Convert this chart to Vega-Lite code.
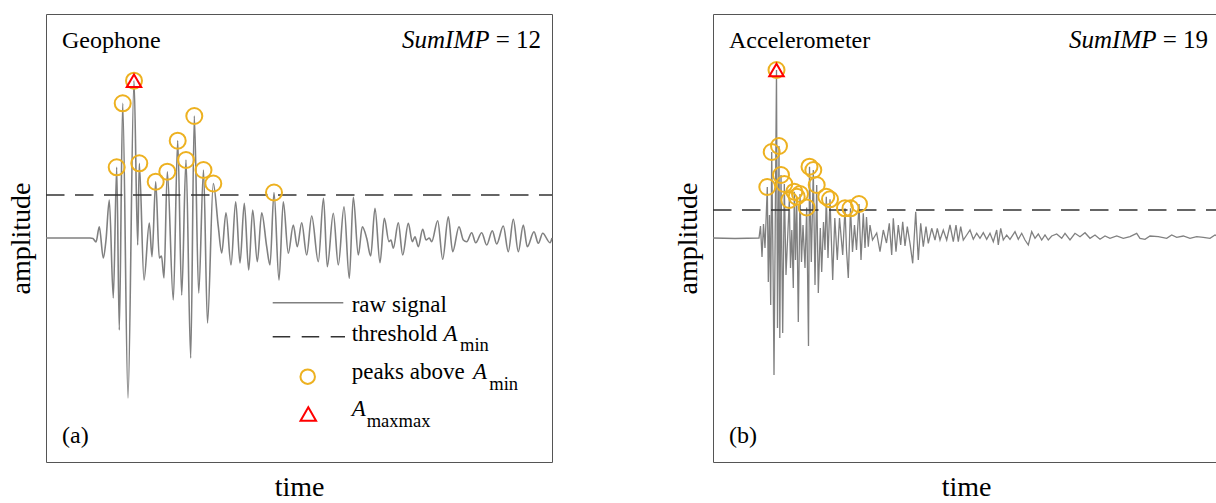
{
  "$schema": "https://vega.github.io/schema/vega-lite/v6.json",
  "background": "white",
  "padding": {"left": 6, "top": 13, "right": 0, "bottom": 0},
  "spacing": 117,
  "config": {
    "view": {"stroke": "#555555", "strokeWidth": 1},
    "font": "Liberation Serif",
    "axis": {"labels": false, "ticks": false, "domain": false, "grid": false, "titleFont": "Liberation Serif", "titleFontSize": 28, "titleFontWeight": "normal", "titleColor": "black", "titlePadding": 11}
  },
  "datasets": {
    "geo": [
      {"t":0,"a":0},{"t":14,"a":0},{"t":29,"a":0},{"t":44,"a":0},{"t":47,"a":-0.5},{"t":50,"a":-4},{"t":53.3,"a":11.3},{"t":57.3,"a":-20},{"t":60,"a":-2},{"t":63.3,"a":38},{"t":67.3,"a":-60},{"t":70.7,"a":70.7},{"t":73.3,"a":-92},{"t":76.7,"a":134.7},{"t":82,"a":-160},{"t":88,"a":157.3},{"t":91.7,"a":-7},{"t":93.3,"a":74.7},{"t":98,"a":-42},{"t":103.3,"a":15},{"t":106,"a":-18.7},{"t":109.7,"a":56.3},{"t":113.3,"a":-20},{"t":115.5,"a":-18},{"t":118,"a":-40},{"t":121.3,"a":66.3},{"t":127.3,"a":-62},{"t":131.7,"a":97.3},{"t":135.7,"a":-57},{"t":140,"a":78},{"t":144.7,"a":-120},{"t":148.3,"a":122},{"t":152.7,"a":-55},{"t":157.5,"a":68},{"t":161.5,"a":-85},{"t":167.3,"a":54.5},{"t":172.3,"a":11.3},{"t":175.7,"a":-15},{"t":180,"a":25.3},{"t":185,"a":-27},{"t":189.7,"a":36.3},{"t":194,"a":-25},{"t":198.3,"a":34.7},{"t":202.7,"a":-32},{"t":206.7,"a":28},{"t":211.3,"a":-23.7},{"t":215.7,"a":25.3},{"t":220.7,"a":-8.7},{"t":224,"a":-27},{"t":228,"a":45.5},{"t":233,"a":-42},{"t":237.3,"a":36.3},{"t":242.3,"a":-15.3},{"t":247.3,"a":13},{"t":251.3,"a":-8.7},{"t":255.7,"a":15.3},{"t":260.7,"a":-17},{"t":265.7,"a":22},{"t":272.3,"a":-23.7},{"t":277.5,"a":39.7},{"t":281.3,"a":-28.7},{"t":287.3,"a":24.7},{"t":292.3,"a":-27},{"t":298,"a":31.3},{"t":303.3,"a":-40.3},{"t":307.3,"a":40.7},{"t":312.3,"a":-17},{"t":316.3,"a":11.3},{"t":320.7,"a":-0.3},{"t":324.7,"a":-18},{"t":329,"a":29.7},{"t":334,"a":-24.7},{"t":338.3,"a":19.7},{"t":343,"a":-3.7},{"t":345,"a":-2},{"t":347.3,"a":-10.3},{"t":352.3,"a":15.3},{"t":356.7,"a":-17},{"t":362.3,"a":14.7},{"t":366.3,"a":-3.7},{"t":369,"a":1.3},{"t":372.3,"a":-8.7},{"t":376.7,"a":8.7},{"t":380,"a":-2},{"t":383.3,"a":0},{"t":385.7,"a":-3.7},{"t":391.7,"a":17.3},{"t":396.7,"a":-21.3},{"t":402.3,"a":21.3},{"t":406.7,"a":-13.7},{"t":413,"a":11.3},{"t":417.3,"a":-2},{"t":420.7,"a":-3.7},{"t":425.7,"a":5.3},{"t":429.7,"a":-4.7},{"t":435.7,"a":5.3},{"t":440.7,"a":-7},{"t":446.3,"a":7.3},{"t":450.7,"a":-6},{"t":457.3,"a":12},{"t":462.3,"a":-13.7},{"t":467.3,"a":18.7},{"t":472.3,"a":-13.7},{"t":477.3,"a":13},{"t":481.3,"a":-8.7},{"t":488,"a":6.3},{"t":492.3,"a":-5.3},{"t":496.7,"a":4.7},{"t":504,"a":-4.7},{"t":506,"a":0}
    ],
    "geoPeaks": [
      {"t":70.7,"a":70.7},{"t":76.7,"a":134.7},{"t":88,"a":157.3},{"t":93.3,"a":74.7},{"t":109.7,"a":56.3},{"t":121.3,"a":66.3},{"t":131.7,"a":97.3},{"t":140,"a":78},{"t":148.3,"a":122},{"t":157.5,"a":68},{"t":167.3,"a":54.5},{"t":228,"a":45.5}
    ],
    "acc": [
      {"t":0,"a":0},{"t":22,"a":-0.5},{"t":46,"a":0},{"t":47.5,"a":12},{"t":49,"a":-19},{"t":50.5,"a":14},{"t":52,"a":-10},{"t":54.3,"a":51},{"t":55.3,"a":-44},{"t":56.5,"a":23},{"t":57.7,"a":-67},{"t":58.7,"a":86},{"t":60,"a":-22},{"t":61,"a":-137},{"t":62.2,"a":8},{"t":63.5,"a":168},{"t":64.5,"a":-90},{"t":66,"a":92},{"t":66.8,"a":-100},{"t":68,"a":63},{"t":69.7,"a":-95},{"t":71.3,"a":54},{"t":73,"a":-37},{"t":76.3,"a":38},{"t":77.5,"a":-30},{"t":78.8,"a":8},{"t":80.3,"a":-50},{"t":81.3,"a":46.3},{"t":82.5,"a":-22},{"t":83.7,"a":41.3},{"t":85.3,"a":-84},{"t":87,"a":44},{"t":88.5,"a":-24},{"t":90,"a":13},{"t":92,"a":-30},{"t":93.7,"a":30.5},{"t":95.5,"a":-108},{"t":96.5,"a":71.3},{"t":98.3,"a":-24},{"t":100.3,"a":68},{"t":102,"a":-47},{"t":103.7,"a":53},{"t":105.3,"a":-55},{"t":107.3,"a":10},{"t":108.7,"a":-34},{"t":110.5,"a":16},{"t":112,"a":-12},{"t":113.3,"a":41.3},{"t":115,"a":-20},{"t":117,"a":38.7},{"t":119.7,"a":-42},{"t":121.8,"a":20},{"t":124.3,"a":-22},{"t":126.5,"a":20},{"t":129.7,"a":-17},{"t":132,"a":29.7},{"t":133.5,"a":-12},{"t":135.3,"a":-40},{"t":137.5,"a":29.7},{"t":139.5,"a":-14},{"t":141.5,"a":13},{"t":143.5,"a":-12},{"t":146,"a":34},{"t":148,"a":-22},{"t":150.3,"a":24.7},{"t":152,"a":-10},{"t":153.5,"a":21},{"t":155.3,"a":-8.7},{"t":157,"a":13},{"t":159.5,"a":-2},{"t":163.7,"a":5},{"t":167,"a":-13.7},{"t":170.3,"a":8},{"t":173.5,"a":-5},{"t":176.3,"a":14.7},{"t":178.7,"a":-17},{"t":180.3,"a":19.7},{"t":183,"a":-13.7},{"t":185.3,"a":13},{"t":187.7,"a":-7},{"t":189.7,"a":16.3},{"t":192,"a":-8},{"t":194.3,"a":11.3},{"t":197,"a":-5.3},{"t":199.7,"a":-25.3},{"t":202.7,"a":26.3},{"t":205.3,"a":-22},{"t":207.7,"a":14.7},{"t":210.3,"a":-8.7},{"t":213,"a":11.3},{"t":215.3,"a":-5.3},{"t":218.7,"a":9.7},{"t":222,"a":-2},{"t":224.3,"a":9.7},{"t":227,"a":-2},{"t":230.3,"a":8},{"t":233.7,"a":-2},{"t":237,"a":13},{"t":240.3,"a":-3.7},{"t":243,"a":13},{"t":245.3,"a":-3.7},{"t":247.7,"a":11.3},{"t":250.3,"a":-2},{"t":253.7,"a":3},{"t":257,"a":8},{"t":260.3,"a":-1.3},{"t":263.7,"a":4.7},{"t":267,"a":-0.3},{"t":270.3,"a":5.3},{"t":273.7,"a":-1.3},{"t":277,"a":4.7},{"t":280.3,"a":-3.7},{"t":283.7,"a":8},{"t":285.3,"a":-7},{"t":287.7,"a":9.7},{"t":290.3,"a":-2},{"t":293.7,"a":3},{"t":297,"a":-1.3},{"t":302,"a":6.3},{"t":305.3,"a":-1.3},{"t":308.7,"a":4.7},{"t":312,"a":-2},{"t":315.3,"a":-7},{"t":318.7,"a":6.3},{"t":322,"a":-0.3},{"t":325.3,"a":4},{"t":328.7,"a":-2},{"t":332,"a":3},{"t":335.3,"a":-2},{"t":338.7,"a":2},{"t":343.7,"a":4},{"t":348.7,"a":-0.3},{"t":352,"a":4.7},{"t":357,"a":-2},{"t":362,"a":4.7},{"t":367,"a":1.3},{"t":372,"a":5.3},{"t":377,"a":-0.3},{"t":382,"a":3},{"t":387,"a":-1.3},{"t":392,"a":2},{"t":397,"a":-0.3},{"t":403.7,"a":2},{"t":410.3,"a":-0.3},{"t":417,"a":1.3},{"t":423.7,"a":4.7},{"t":427,"a":-0.3},{"t":432,"a":-1.3},{"t":437,"a":2},{"t":445.3,"a":1.3},{"t":453.7,"a":-0.3},{"t":458.7,"a":3},{"t":463.7,"a":0.7},{"t":470.3,"a":2},{"t":477,"a":-0.3},{"t":483.7,"a":1.3},{"t":490.3,"a":0.7},{"t":497,"a":-0.3},{"t":502,"a":3},{"t":506,"a":1}
    ],
    "accPeaks": [
      {"t":54.3,"a":51},{"t":58.7,"a":86},{"t":63.5,"a":168},{"t":66,"a":92},{"t":68,"a":63},{"t":71.3,"a":54},{"t":76.3,"a":38},{"t":81.3,"a":46.3},{"t":83.7,"a":41.3},{"t":87,"a":44},{"t":93.7,"a":30.5},{"t":96.5,"a":71.3},{"t":100.3,"a":68},{"t":103.7,"a":53},{"t":113.3,"a":41.3},{"t":117,"a":38.7},{"t":132,"a":29.7},{"t":137.5,"a":29.7},{"t":146,"a":34}
    ]
  },
  "hconcat": [
    {
      "width": 506,
      "height": 448,
      "encoding": {
        "x": {"field": "t", "type": "quantitative", "scale": {"domain": [0, 506], "nice": false, "zero": false}, "axis": {"title": "time"}},
        "y": {"field": "a", "type": "quantitative", "scale": {"domain": [-224, 224], "nice": false, "zero": false}, "axis": {"title": "amplitude"}}
      },
      "layer": [
        {"data": {"name": "geo"}, "mark": {"type": "line", "color": "#808080", "strokeWidth": 1.6, "interpolate": "monotone"}},
        {"data": {"values": [{"t": 0, "a": 43}, {"t": 506, "a": 43}]}, "mark": {"type": "line", "color": "#333333", "strokeWidth": 1.5, "strokeDash": [18.5, 10.5]}},
        {"data": {"name": "geoPeaks"}, "mark": {"type": "point", "shape": "circle", "filled": false, "stroke": "#EDB120", "strokeWidth": 2, "size": 256, "opacity": 1}},
        {"data": {"values": [{"t": 88, "a": 157.3}]}, "mark": {"type": "point", "shape": "triangle-up", "filled": false, "stroke": "#FF0000", "strokeWidth": 2, "size": 210, "opacity": 1}},
        {"data": {"values": [{"t": 16, "a": 190, "label": "Geophone"}, {"t": 16, "a": -205, "label": "(a)"}]}, "mark": {"type": "text", "align": "left", "baseline": "alphabetic", "fontSize": 24, "color": "black", "font": "Liberation Serif"}, "encoding": {"text": {"field": "label"}}},
        {"data": {"values": [{"t": 495, "a": 190, "label": "= 12"}]}, "mark": {"type": "text", "align": "right", "baseline": "alphabetic", "fontSize": 25, "color": "black", "font": "Liberation Serif"}, "encoding": {"text": {"field": "label"}}},
        {"data": {"values": [{"t": 443.5, "a": 190, "label": "SumIMP"}]}, "mark": {"type": "text", "align": "right", "baseline": "alphabetic", "fontSize": 25, "fontStyle": "italic", "color": "black", "font": "Liberation Serif"}, "encoding": {"text": {"field": "label"}}},
        {"data": {"values": [{"t": 226.7, "a": -64.7}, {"t": 297.3, "a": -64.7}]}, "mark": {"type": "line", "color": "#808080", "strokeWidth": 1.6}},
        {"data": {"values": [{"t": 226.7, "a": -98.7}, {"t": 299, "a": -98.7}]}, "mark": {"type": "line", "color": "#333333", "strokeWidth": 1.5, "strokeDash": [17.5, 11.5]}},
        {"data": {"values": [{"t": 261.7, "a": -138.7}]}, "mark": {"type": "point", "shape": "circle", "filled": false, "stroke": "#EDB120", "strokeWidth": 2, "size": 210, "opacity": 1}},
        {"data": {"values": [{"t": 262.3, "a": -176}]}, "mark": {"type": "point", "shape": "triangle-up", "filled": false, "stroke": "#FF0000", "strokeWidth": 2, "size": 240, "opacity": 1}},
        {"data": {"values": [{"t": 305.7, "a": -74, "label": "raw signal"}, {"t": 305.7, "a": -102.7, "label": "threshold"}, {"t": 305.7, "a": -140.7, "label": "peaks above"}]}, "mark": {"type": "text", "align": "left", "baseline": "alphabetic", "fontSize": 23, "color": "black", "font": "Liberation Serif"}, "encoding": {"text": {"field": "label"}}},
        {"data": {"values": [{"t": 397.5, "a": -102.7, "label": "A"}, {"t": 427, "a": -140.7, "label": "A"}, {"t": 305.7, "a": -178.3, "label": "A"}]}, "mark": {"type": "text", "align": "left", "baseline": "alphabetic", "fontSize": 23, "fontStyle": "italic", "color": "black", "font": "Liberation Serif"}, "encoding": {"text": {"field": "label"}}},
        {"data": {"values": [{"t": 414, "a": -113.3, "label": "min"}, {"t": 443.3, "a": -151.7, "label": "min"}, {"t": 320.7, "a": -189.3, "label": "maxmax"}]}, "mark": {"type": "text", "align": "left", "baseline": "alphabetic", "fontSize": 18.5, "color": "black", "font": "Liberation Serif"}, "encoding": {"text": {"field": "label"}}}
      ]
    },
    {
      "width": 506,
      "height": 448,
      "encoding": {
        "x": {"field": "t", "type": "quantitative", "scale": {"domain": [0, 506], "nice": false, "zero": false}, "axis": {"title": "time"}},
        "y": {"field": "a", "type": "quantitative", "scale": {"domain": [-224, 224], "nice": false, "zero": false}, "axis": {"title": "amplitude"}}
      },
      "layer": [
        {"data": {"name": "acc"}, "mark": {"type": "line", "color": "#808080", "strokeWidth": 1.3}},
        {"data": {"values": [{"t": 0, "a": 28}, {"t": 506, "a": 28}]}, "mark": {"type": "line", "color": "#333333", "strokeWidth": 1.5, "strokeDash": [18.5, 10.5]}},
        {"data": {"name": "accPeaks"}, "mark": {"type": "point", "shape": "circle", "filled": false, "stroke": "#EDB120", "strokeWidth": 2, "size": 256, "opacity": 1}},
        {"data": {"values": [{"t": 63.5, "a": 168}]}, "mark": {"type": "point", "shape": "triangle-up", "filled": false, "stroke": "#FF0000", "strokeWidth": 2, "size": 210, "opacity": 1}},
        {"data": {"values": [{"t": 16, "a": 190, "label": "Accelerometer"}, {"t": 16, "a": -205, "label": "(b)"}]}, "mark": {"type": "text", "align": "left", "baseline": "alphabetic", "fontSize": 24, "color": "black", "font": "Liberation Serif"}, "encoding": {"text": {"field": "label"}}},
        {"data": {"values": [{"t": 495, "a": 190, "label": "= 19"}]}, "mark": {"type": "text", "align": "right", "baseline": "alphabetic", "fontSize": 25, "color": "black", "font": "Liberation Serif"}, "encoding": {"text": {"field": "label"}}},
        {"data": {"values": [{"t": 443.5, "a": 190, "label": "SumIMP"}]}, "mark": {"type": "text", "align": "right", "baseline": "alphabetic", "fontSize": 25, "fontStyle": "italic", "color": "black", "font": "Liberation Serif"}, "encoding": {"text": {"field": "label"}}}
      ]
    }
  ]
}
